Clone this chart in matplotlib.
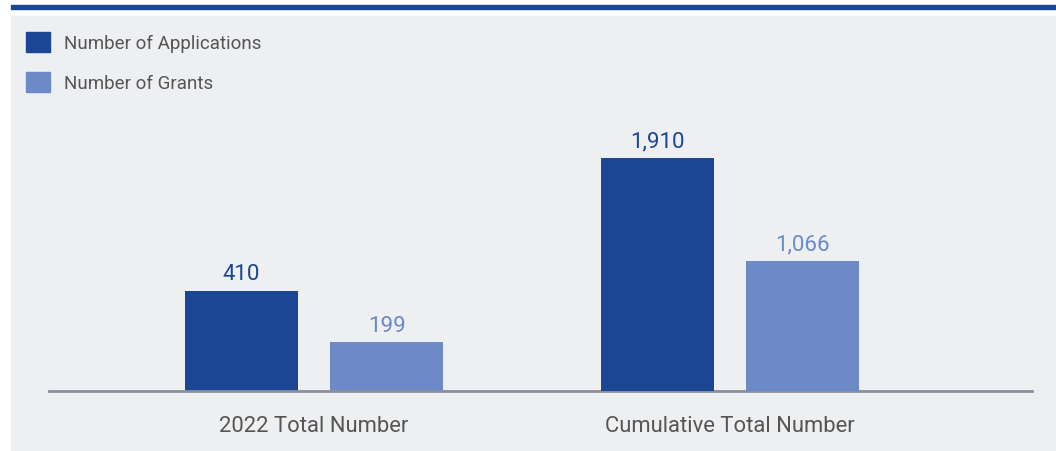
import matplotlib
matplotlib.use('Agg')
import numpy as np
from matplotlib import pyplot as plt
from matplotlib.patches import Rectangle, Patch

plt.rcParams['font.family'] = ['Roboto', 'DejaVu Sans']

categories = ['2022 Total Number', 'Cumulative Total Number']
applications = [410, 1910]
grants = [199, 1066]
series_names = ['Number of Applications', 'Number of Grants']

c_app = '#1a4694'
c_grant = '#6b8ac7'
c_panel = '#eeeff1'
c_text = '#555555'

W, H = 1056, 452
fig = plt.figure(figsize=(W / 100, H / 100), dpi=100)
fig.patch.set_facecolor('white')

# gray panel + blue rule on top
fig.add_artist(Rectangle((11 / W, 0), 1 - 11 / W, 1 - 17 / H,
                         transform=fig.transFigure, color=c_panel, zorder=0))
fig.add_artist(Rectangle((11 / W, 1 - 10 / H), 1 - 11 / W, 4 / H,
                         transform=fig.transFigure, color=c_app, zorder=0))

rect = [49 / W, 60 / H, 983 / W, 362 / H]
ax1 = fig.add_axes(rect)
ax2 = fig.add_axes(rect)

x = np.arange(len(categories))
width = 0.272
offset = 0.1745

# each group has its own scale in the original chart
ymax = [410 * 362 / 100, 1910 * 362 / 233]
for i, ax in enumerate([ax1, ax2]):
    ax.set_facecolor('none')
    b1 = ax.bar(x[i] - offset, applications[i], width, color=c_app, zorder=2)
    b2 = ax.bar(x[i] + offset, grants[i], width, color=c_grant, zorder=2)
    ax.bar_label(b1, labels=[f'{applications[i]:,}'], padding=5, fontsize=16, color=c_app)
    ax.bar_label(b2, labels=[f'{grants[i]:,}'], padding=5, fontsize=16, color=c_grant)
    ax.set_xlim(-0.638, 1.728)
    ax.set_ylim(0, ymax[i])
    for s in ['top', 'right', 'left']:
        ax.spines[s].set_visible(False)
    ax.spines['bottom'].set_visible(i == 0)
    ax.spines['bottom'].set_color('#8a8f9c')
    ax.spines['bottom'].set_linewidth(2)
    ax.spines['bottom'].set_zorder(3)
    ax.set_yticks([])
    if i == 0:
        ax.set_xticks(x)
        ax.set_xticklabels(categories, fontsize=15.8, color=c_text)
        ax.tick_params(axis='x', length=0, pad=17)
    else:
        ax.set_xticks([])

handles = [Patch(color=c_app), Patch(color=c_grant)]
fig.legend(handles, series_names, loc='upper left',
           bbox_to_anchor=(26 / W, 1 - 33 / H), frameon=False,
           fontsize=13.5, labelcolor=c_text, borderpad=0, borderaxespad=0,
           handlelength=1.28, handleheight=1.28, handletextpad=0.75,
           labelspacing=1.05)

fig.savefig('out.png', dpi=100)
